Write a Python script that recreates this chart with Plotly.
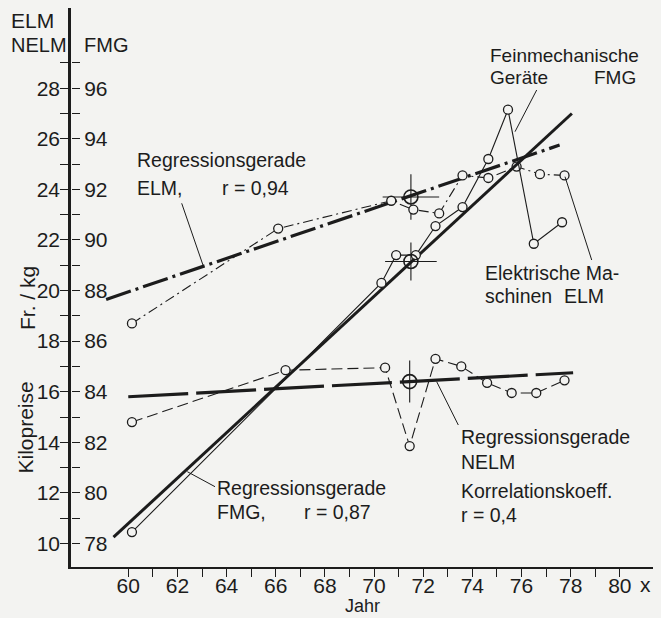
import plotly.graph_objects as go

# ---------------- data ----------------
years_elm = [60.15, 66.1, 70.7, 71.6, 72.65, 73.6, 74.65, 75.8, 76.75, 77.75]
elm_vals = [18.7, 22.45, 23.55, 23.2, 23.05, 24.55, 24.45, 24.9, 24.6, 24.55]

years_nelm = [60.15, 66.4, 70.45, 71.45, 72.5, 73.55, 74.6, 75.6, 76.6, 77.75]
nelm_vals = [14.8, 16.85, 16.95, 13.85, 17.3, 17.0, 16.35, 15.95, 15.95, 16.45]

years_fmg = [60.15, 70.3, 70.9, 71.7, 72.5, 73.6, 74.65, 75.45, 76.5, 77.65]
fmg_vals = [78.45, 88.3, 89.4, 89.4, 90.55, 91.3, 93.2, 95.15, 89.85, 90.7]

reg_elm_x = [59.1, 77.55]
reg_elm_y = [19.65, 25.75]
reg_nelm_x = [60.0, 78.1]
reg_nelm_y = [15.8, 16.75]
reg_fmg_x = [59.4, 78.05]
reg_fmg_y = [78.25, 95.0]

mean_elm = (71.5, 23.7)
mean_nelm = (71.45, 16.4)
mean_fmg = (71.5, 89.15)

x_ticks = list(range(60, 81))
x_ticklabels = [str(v) if v % 2 == 0 else "" for v in x_ticks]
y_ticks = list(range(10, 30))
y_ticklabels = [str(v) if v % 2 == 0 else "" for v in y_ticks]
fmg_offset = 68
y2_ticks = [v + fmg_offset for v in y_ticks]
y2_ticklabels = [str(v) if v % 2 == 0 else "" for v in y2_ticks]

# ---------------- style ----------------
BG = "#f3f3f1"
INK = "#1c1c1c"
FONT = "Liberation Sans"
W, H = 661, 618
ML, MR, MT, MB = 71, 8, 8, 51
XR = [57.67, 81.35]
YR = [9.07, 31.17]

def P(px, py):
    return (px - ML) / (W - ML - MR), (H - MB - py) / (H - MT - MB)

fig = go.Figure()

def line(x, y, width, dash="solid", yaxis="y"):
    fig.add_trace(go.Scatter(x=x, y=y, mode="lines", yaxis=yaxis,
                             line=dict(color=INK, width=width, dash=dash),
                             hoverinfo="skip", showlegend=False))

# regression lines (thick)
line(reg_elm_x, reg_elm_y, 3.2, "26px,5px,3px,5px")
line(reg_nelm_x, reg_nelm_y, 3.2, "60px,8px")
line(reg_fmg_x, reg_fmg_y, 3.0, "solid", "y2")

# crosshairs at mean points
cross = [(mean_elm, 1.15, 0.9, "y"), (mean_fmg, 1.05, 0.75, "y2"), (mean_nelm, 0.0, 0.83, "y")]
for (mx, my), dx, dy, ax in cross:
    if dx > 0:
        line([mx - dx, mx + dx], [my, my], 1.1, "solid", ax)
    line([mx, mx], [my - dy, my + dy], 1.1, "solid", ax)

# data series
def series(x, y, dash, yaxis="y"):
    fig.add_trace(go.Scatter(x=x, y=y, mode="lines+markers", yaxis=yaxis,
                             line=dict(color=INK, width=1.1, dash=dash),
                             marker=dict(symbol="circle", size=9, color=BG,
                                         line=dict(color=INK, width=1.3)),
                             hoverinfo="skip", showlegend=False))

series(years_elm, elm_vals, "10px,4px,2px,4px")
series(years_nelm, nelm_vals, "11px,5px")
series(years_fmg, fmg_vals, "solid", "y2")

# mean circles
for (mx, my), ax in [(mean_elm, "y"), (mean_nelm, "y"), (mean_fmg, "y2")]:
    fig.add_trace(go.Scatter(x=[mx], y=[my], mode="markers", yaxis=ax,
                             marker=dict(symbol="circle-open", size=14, color=INK,
                                         line=dict(color=INK, width=1.6)),
                             hoverinfo="skip", showlegend=False))

# ---------------- annotations ----------------
ann = []
def text(t, px, py, size=19.5, anchor="left", angle=0):
    x, y = P(px, py)
    ann.append(dict(text=t, x=x, y=y, xref="paper", yref="paper", showarrow=False,
                    xanchor=anchor, yanchor="middle", textangle=angle, borderpad=0,
                    font=dict(family=FONT, size=size, color=INK)))

text("Feinmechanische", 489, 55.5, 19)
text("Geräte", 489, 77.5, 19)
text("FMG", 593, 77.5, 19)
text("Regressionsgerade", 136, 160)
text("ELM,", 136, 188.3)
text("r = 0,94", 221, 188.3)
text("Elektrische Ma-", 484, 272.5)
text("schinen", 484, 295.5)
text("ELM", 563, 295.5)
text("Regressionsgerade", 460, 436.7)
text("NELM", 460, 462.3)
text("Korrelationskoeff.", 460, 491.5)
text("r = 0,4", 460, 515)
text("Regressionsgerade", 216, 487.5)
text("FMG,", 216, 512)
text("r = 0,87", 303, 512)
# axis labels
text("ELM", 10, 20, 21)
text("NELM", 10, 45, 20)
text("FMG", 83, 45, 20)
text("Kilopreise", 25, 427.5, 21, "center", -90)
text("Fr. / kg", 27, 298, 21, "center", -90)
text("x", 645, 584, 21, "center")
text("Jahr", 362, 605.5, 18, "center")

shapes = []
for (x0, y0, x1, y1) in [(536.7, 90, 515, 131.7), (181.7, 203.3, 203.3, 266),
                         (591.7, 260, 565, 176.7), (458.3, 425, 436.7, 381.7),
                         (215, 486.7, 187.3, 471.7)]:
    a0, b0 = P(x0, y0)
    a1, b1 = P(x1, y1)
    shapes.append(dict(type="line", xref="paper", yref="paper", x0=a0, y0=b0,
                       x1=a1, y1=b1, line=dict(color=INK, width=1)))

fig.update_layout(
    width=W, height=H, margin=dict(l=ML, r=MR, t=MT, b=MB),
    paper_bgcolor=BG, plot_bgcolor=BG,
    font=dict(family=FONT, color=INK),
    annotations=ann, shapes=shapes,
    xaxis=dict(range=XR, showgrid=False, zeroline=False, showline=True,
               linecolor=INK, linewidth=2, ticks="outside", ticklen=8, tickwidth=1.4,
               tickcolor=INK, tickvals=x_ticks, ticktext=x_ticklabels,
               ticklabelstandoff=-9,
               tickfont=dict(size=21, family=FONT, color=INK)),
    yaxis=dict(range=YR, showgrid=False, zeroline=False, showline=True,
               linecolor=INK, linewidth=2.5, ticks="outside", ticklen=8, tickwidth=1.4,
               tickcolor=INK, tickvals=y_ticks, ticktext=y_ticklabels,
               ticklabelstandoff=-4,
               tickfont=dict(size=21, family=FONT, color=INK)),
    yaxis2=dict(range=[YR[0] + fmg_offset, YR[1] + fmg_offset], overlaying="y",
                anchor="free", position=0, side="right", showgrid=False,
                zeroline=False, showline=False, ticks="outside", ticklen=8,
                tickwidth=1.4, tickcolor=INK, tickvals=y2_ticks, ticktext=y2_ticklabels,
                tickfont=dict(size=21, family=FONT, color=INK)),
)

fig.write_html("out.html", config={"displayModeBar": False},
               post_script="document.body.style.margin='0px';"
                           "document.body.style.background='" + BG + "';")
